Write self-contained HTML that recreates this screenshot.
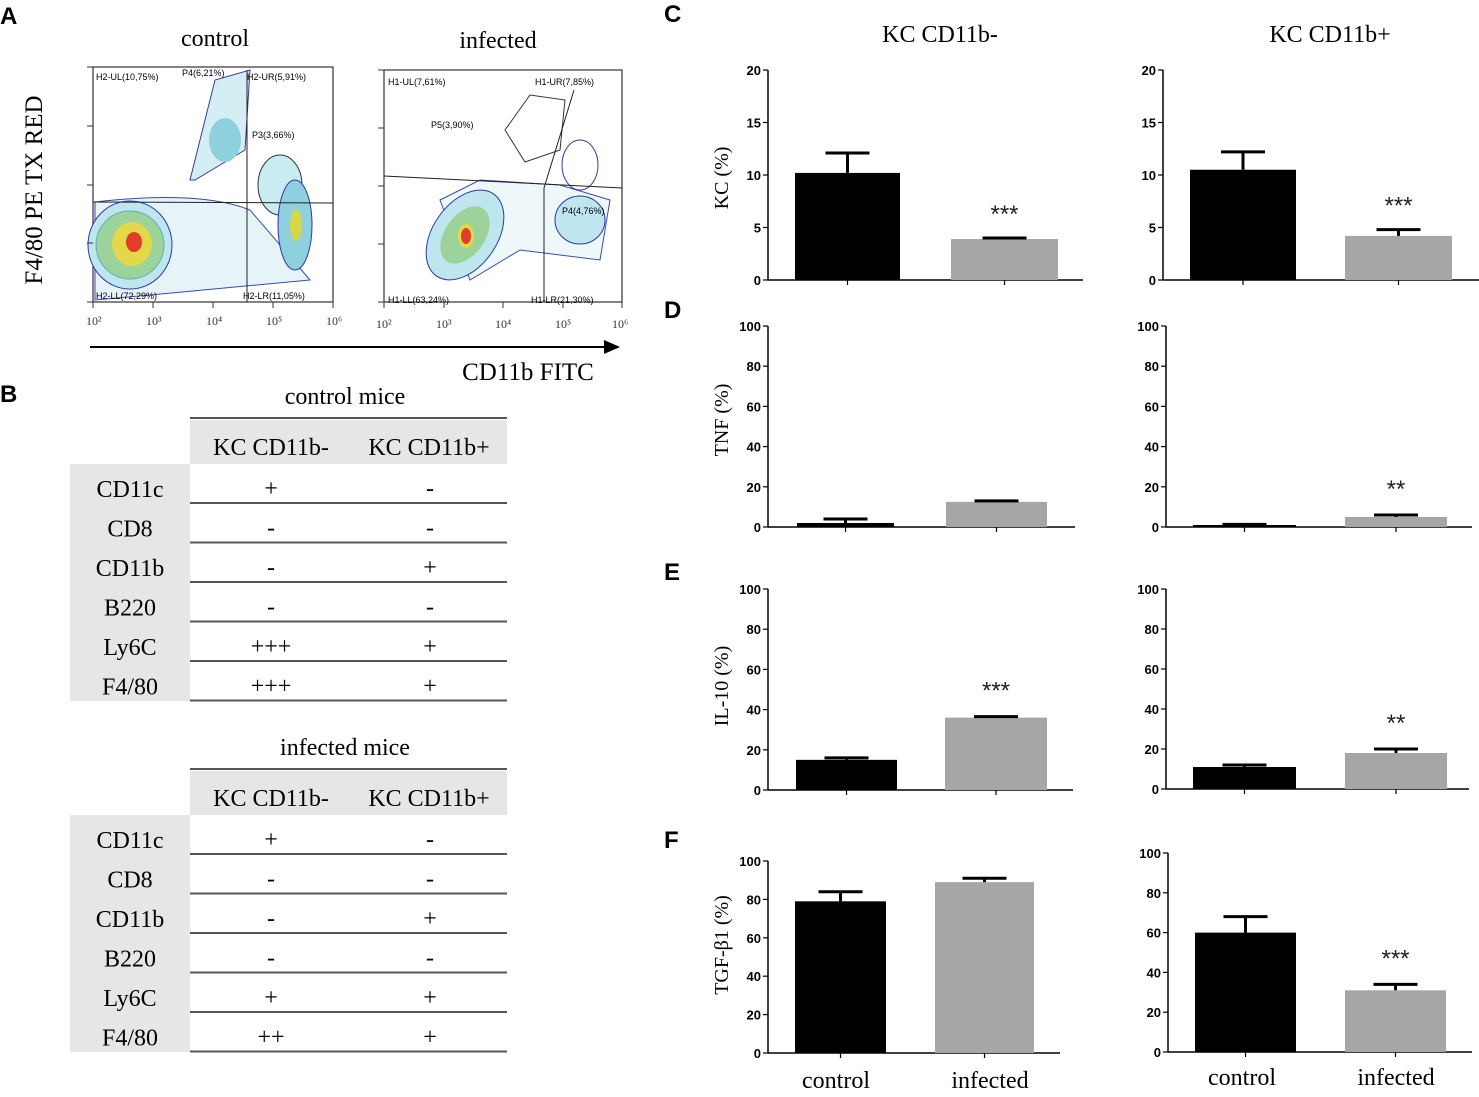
<!DOCTYPE html>
<html><head><meta charset="utf-8"><style>
body{margin:0;background:#fff;}
svg{display:block;}
.ser{font-family:"Liberation Serif",serif;}
.san{font-family:"Liberation Sans",sans-serif;}
</style></head><body>
<svg id="fig" width="1479" height="1097" viewBox="0 0 1479 1097" xmlns="http://www.w3.org/2000/svg">
<g class="san" font-weight="bold" font-size="24">
<text x="0" y="24">A</text>
<text x="0" y="402">B</text>
<text x="664" y="22">C</text>
<text x="664" y="318">D</text>
<text x="664" y="580">E</text>
<text x="664" y="848">F</text>
</g>
<g>
<text class="ser" x="215" y="46" font-size="24" text-anchor="middle">control</text>
<text class="ser" x="498" y="48" font-size="24" text-anchor="middle">infected</text>
<text class="ser" font-size="25" transform="translate(42,190) rotate(-90)" text-anchor="middle">F4/80 PE TX RED</text>
<text class="ser" x="528" y="380" font-size="25" text-anchor="middle">CD11b FITC</text>
<line x1="90" y1="347" x2="608" y2="347" stroke="#000" stroke-width="2"/>
<polygon points="604,340 620,347 604,354" fill="#000"/>
<g id="flowc">
<rect x="93" y="67" width="240" height="235" fill="#fff" stroke="#333" stroke-width="1.2"/>
<path d="M95,202 Q200,190 250,210 L310,280 L150,295 L95,300 Z" fill="#e6f4f8" stroke="#3a4ab0"/>
<ellipse cx="130" cy="245" rx="42" ry="44" fill="#bfe6ee" stroke="#2a3aa0"/>
<ellipse cx="130" cy="245" rx="34" ry="34" fill="#9bd39a" stroke="#5ab0c0"/>
<ellipse cx="132" cy="244" rx="20" ry="22" fill="#e3d74a"/>
<ellipse cx="134" cy="242" rx="8" ry="10" fill="#e23c2a"/>
<path d="M190,180 L215,80 L250,70 L245,150 L195,180Z" fill="#d5eef4" stroke="#3a3aa0"/>
<ellipse cx="225" cy="140" rx="16" ry="22" fill="#8fd0df"/>
<ellipse cx="280" cy="185" rx="22" ry="30" fill="#c8ecf2" stroke="#333"/>
<ellipse cx="295" cy="225" rx="17" ry="45" fill="#8fd0df" stroke="#2a3aa0"/>
<ellipse cx="296" cy="225" rx="6" ry="16" fill="#d6d64a"/>
<line x1="93" y1="202" x2="333" y2="203" stroke="#222"/>
<line x1="247" y1="70" x2="247" y2="302" stroke="#222"/>
<g class="san" font-size="9"><text x="96" y="80">H2-UL(10,75%)</text><text x="182" y="76">P4(6,21%)</text><text x="247" y="80">H2-UR(5,91%)</text><text x="252" y="138">P3(3,66%)</text><text x="96" y="299">H2-LL(72,29%)</text><text x="243" y="299">H2-LR(11,05%)</text></g>
</g>
<g id="flowi">
<rect x="384" y="70" width="238" height="232" fill="#fff" stroke="#333" stroke-width="1.2"/>
<path d="M440,200 L480,180 L560,185 L610,200 L600,260 L520,250 L470,280 Z" fill="#eef8fa" stroke="#3a4ab0"/>
<ellipse cx="465" cy="235" rx="32" ry="50" transform="rotate(35 465 235)" fill="#bfe6ee" stroke="#2a3aa0"/>
<ellipse cx="465" cy="235" rx="20" ry="32" transform="rotate(35 465 235)" fill="#9bd39a"/>
<ellipse cx="466" cy="236" rx="8" ry="12" fill="#e3d74a"/>
<ellipse cx="466" cy="236" rx="5" ry="8" fill="#e23c2a"/>
<ellipse cx="580" cy="220" rx="25" ry="24" fill="#bfe6ee" stroke="#2a3aa0"/>
<path d="M505,130 L530,95 L565,100 L560,150 L525,162 Z" fill="none" stroke="#333"/>
<ellipse cx="580" cy="165" rx="18" ry="25" fill="none" stroke="#3a3aa0"/>
<line x1="384" y1="176" x2="622" y2="188" stroke="#222"/>
<line x1="544" y1="188" x2="544" y2="302" stroke="#222"/>
<line x1="544" y1="188" x2="574" y2="90" stroke="#222"/>
<g class="san" font-size="9"><text x="388" y="85">H1-UL(7,61%)</text><text x="535" y="85">H1-UR(7,85%)</text><text x="431" y="128">P5(3,90%)</text><text x="562" y="214">P4(4,76%)</text><text x="388" y="303">H1-LL(63,24%)</text><text x="531" y="303">H1-LR(21,30%)</text></g>
</g>
<g stroke="#333" stroke-width="1">
<path d="M93,302v6M153,302v6M213,302v6M273,302v6M333,302v6M384,302v6M444,302v6M503,302v6M563,302v6M622,302v6"/>
<path d="M87,302h6M87,243h6M87,185h6M87,126h6M87,67h6M378,302h6M378,244h6M378,186h6M378,128h6M378,70h6"/>
</g>
<g class="ser" font-size="12" fill="#333">
<text x="86" y="325">10²</text><text x="146" y="325">10³</text><text x="206" y="325">10⁴</text><text x="266" y="325">10⁵</text><text x="326" y="325">10⁶</text>
<text x="376" y="328">10²</text><text x="436" y="328">10³</text><text x="495" y="328">10⁴</text><text x="555" y="328">10⁵</text><text x="612" y="328">10⁶</text>
</g>
</g>
<g id="tables" class="ser"></g>
<g id="charts">
<text class="ser" x="940" y="42" font-size="24" text-anchor="middle">KC CD11b-</text>
<text class="ser" x="1330" y="42" font-size="24" text-anchor="middle">KC CD11b+</text>
<text class="ser" x="836" y="1088" font-size="24" text-anchor="middle">control</text>
<text class="ser" x="990" y="1088" font-size="24" text-anchor="middle">infected</text>
<text class="ser" x="1242" y="1085" font-size="24" text-anchor="middle">control</text>
<text class="ser" x="1396" y="1085" font-size="24" text-anchor="middle">infected</text>
</g>
</svg>
<script>
const groups = ["control", "infected"];
const kcNegValues = [10.2, 3.9];
const kcNegErrors = [12.1, 4.0];
const kcPosValues = [10.5, 4.2];
const kcPosErrors = [12.2, 4.8];
const tnfNegValues = [2, 12.5];
const tnfNegErrors = [4, 13];
const tnfPosValues = [1, 5];
const tnfPosErrors = [1.3, 6];
const il10NegValues = [15, 36];
const il10NegErrors = [16, 36.5];
const il10PosValues = [11, 18];
const il10PosErrors = [12, 20];
const tgfNegValues = [79, 89];
const tgfNegErrors = [84, 91];
const tgfPosValues = [60, 31];
const tgfPosErrors = [68, 34];
const kcTicks = [0, 5, 10, 15, 20];
const pctTicks = [0, 20, 40, 60, 80, 100];
const stars = ["***", "***", "", "**", "***", "**", "", "***"];

const NS = "http://www.w3.org/2000/svg";
function mk(tag, attrs, parent) {
  const e = document.createElementNS(NS, tag);
  for (const k in attrs) e.setAttribute(k, attrs[k]);
  parent.appendChild(e);
  return e;
}
const charts = document.getElementById("charts");
const panels = [
  {id:"kc-neg", ax:768, y0:280, yT:70, max:20, ticks:kcTicks, end:1083, bars:[[795,900],[951,1058]], v:kcNegValues, e:kcNegErrors, ylab:"KC (%)", yl:178, s:0},
  {id:"kc-pos", ax:1163, y0:280, yT:70, max:20, ticks:kcTicks, end:1479, bars:[[1190,1296],[1345,1452]], v:kcPosValues, e:kcPosErrors, s:1},
  {id:"tnf-neg", ax:768, y0:527, yT:326, max:100, ticks:pctTicks, end:1075, bars:[[797,894],[946,1047]], v:tnfNegValues, e:tnfNegErrors, ylab:"TNF (%)", yl:420, s:2},
  {id:"tnf-pos", ax:1166, y0:527, yT:326, max:100, ticks:pctTicks, end:1472, bars:[[1193,1296],[1345,1447]], v:tnfPosValues, e:tnfPosErrors, s:3},
  {id:"il10-neg", ax:768, y0:790, yT:589, max:100, ticks:pctTicks, end:1073, bars:[[796,897],[945,1047]], v:il10NegValues, e:il10NegErrors, ylab:"IL-10 (%)", yl:686, s:4},
  {id:"il10-pos", ax:1166, y0:789, yT:589, max:100, ticks:pctTicks, end:1469, bars:[[1193,1296],[1345,1447]], v:il10PosValues, e:il10PosErrors, s:5},
  {id:"tgf-neg", ax:768, y0:1053, yT:861, max:100, ticks:pctTicks, end:1060, bars:[[795,886],[935,1034]], v:tgfNegValues, e:tgfNegErrors, ylab:"TGF-β1 (%)", yl:945, s:6},
  {id:"tgf-pos", ax:1168, y0:1052, yT:853, max:100, ticks:pctTicks, end:1472, bars:[[1195,1296],[1345,1446]], v:tgfPosValues, e:tgfPosErrors, s:7}
];
panels.forEach(p => {
  const g = mk("g", {}, charts);
  
  
  const y = v => p.y0 - (v / p.max) * (p.y0 - p.yT);
  const ya = mk("line", {x1:p.ax, y1:p.yT, x2:p.ax, y2:p.y0, stroke:"#000", "stroke-width":1.5}, g);
  
  
  const xa = mk("line", {x1:p.ax, y1:p.y0, x2:p.end, y2:p.y0, stroke:"#000", "stroke-width":1.5}, g);
  
  
  p.ticks.forEach(t => {
    mk("line", {x1:p.ax-5, y1:y(t), x2:p.ax, y2:y(t), stroke:"#000", "stroke-width":1.2}, g);
    const tl = mk("text", {x:p.ax-7, y:y(t)+5, "font-size":13, "font-weight":"bold", "text-anchor":"end", "font-family":"Liberation Sans Narrow, Liberation Sans, sans-serif"}, g);
    tl.textContent = t;
    
    
  });
  p.bars.forEach((b, i) => {
    const cx = (b[0] + b[1]) / 2;
    mk("line", {x1:cx, y1:p.y0, x2:cx, y2:p.y0+5, stroke:"#000", "stroke-width":1.2}, g);
    const r = mk("rect", {x:b[0], y:y(p.v[i]), width:b[1]-b[0], height:p.y0-y(p.v[i]), fill: i===0 ? "#000" : "#a6a6a8"}, g);
    
    
    const eb = mk("path", {d:`M${cx},${y(p.v[i])} V${y(p.e[i])} M${cx-22},${y(p.e[i])} H${cx+22}`, stroke:"#000", "stroke-width":3, fill:"none"}, g);
    
    
  });
  if (stars[p.s]) {
    const cx = (p.bars[1][0] + p.bars[1][1]) / 2;
    const st = mk("text", {x:cx, y:y(p.e[1]) - (p.max===20?16:18), "font-size":24, "text-anchor":"middle", "font-family":"Liberation Sans, sans-serif", fill:"#222"}, g);
    st.textContent = stars[p.s];
    
    
  }
  if (p.ylab) {
    const yt = mk("text", {transform:`translate(728,${p.yl}) rotate(-90)`, "font-size":20, "text-anchor":"middle", "font-family":"Liberation Serif, serif"}, g);
    yt.textContent = p.ylab;
    
    
  }
});

const markers = ["CD11c", "CD8", "CD11b", "B220", "Ly6C", "F4/80"];
const ctrlNeg = ["+", "-", "-", "-", "+++", "+++"];
const ctrlPos = ["-", "-", "+", "-", "+", "+"];
const infNeg = ["+", "-", "-", "-", "+", "++"];
const infPos = ["-", "-", "+", "-", "+", "+"];
const tables = document.getElementById("tables");
function table(top, title, neg, pos, nm) {
  const g = mk("g", {}, tables);
  
  
  const t = mk("text", {x:345, y:top-14, "font-size":24, "text-anchor":"middle"}, g);
  t.textContent = title;
  
  
  mk("line", {x1:190, y1:top, x2:507, y2:top, stroke:"#555", "stroke-width":2}, g);
  mk("rect", {x:190, y:top+2, width:317, height:44, fill:"#e6e6e6"}, g);
  mk("rect", {x:70, y:top+46, width:120, height:237, fill:"#e6e6e6"}, g);
  const h1 = mk("text", {x:271, y:top+37, "font-size":24, "text-anchor":"middle"}, g);
  h1.textContent = "KC CD11b-";
  
  
  const h2 = mk("text", {x:429, y:top+37, "font-size":24, "text-anchor":"middle"}, g);
  h2.textContent = "KC CD11b+";
  
  
  markers.forEach((m, i) => {
    const rt = top + 46 + i * 39.5;
    const a = mk("text", {x:130, y:rt+33, "font-size":24, "text-anchor":"middle"}, g);
    a.textContent = m;
    
    
    const b = mk("text", {x:271, y:rt+32, "font-size":24, "text-anchor":"middle"}, g);
    b.textContent = neg[i];
    
    
    const c = mk("text", {x:430, y:rt+32, "font-size":24, "text-anchor":"middle"}, g);
    c.textContent = pos[i];
    
    
    mk("line", {x1:190, y1:rt+39, x2:507, y2:rt+39, stroke:"#555", "stroke-width":2}, g);
  });
}
table(418, "control  mice", ctrlNeg, ctrlPos, "control-mice-table");
table(769, "infected mice", infNeg, infPos, "infected-mice-table");
</script>
</body></html>
